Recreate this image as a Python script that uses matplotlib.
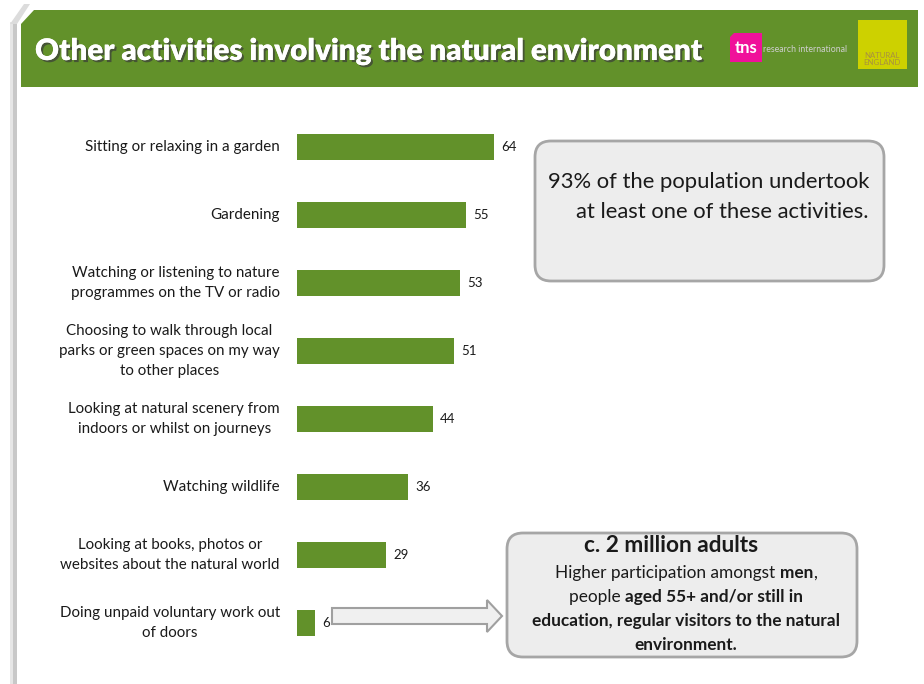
import matplotlib
matplotlib.use("Agg")
import matplotlib.pyplot as plt
from matplotlib.patches import Rectangle, FancyBboxPatch, Polygon
import matplotlib.patheffects as pe

# ---- data -------------------------------------------------------------
activities = [
    "Sitting or relaxing in a garden",
    "Gardening",
    "Watching or listening to nature\nprogrammes on the TV or radio",
    "Choosing to walk through local\nparks or green spaces on my way\nto other places",
    "Looking at natural scenery from\nindoors or whilst on journeys",
    "Watching wildlife",
    "Looking at books, photos or\nwebsites about the natural world",
    "Doing unpaid voluntary work out\nof doors",
]
participation = [64, 55, 53, 51, 44, 36, 29, 6]

title = "Other activities involving the natural environment"
summary_text = "93% of the population undertook\nat least one of these activities."
callout_title = "c. 2 million adults"
callout_lines = [
    [("Higher participation amongst ", False), ("men", True), (",", False)],
    [("people ", False), ("aged 55+ and/or still in", True)],
    [("education, regular visitors to the natural", True)],
    [("environment.", True)],
]

GREEN = "#62912a"
BODY_FONT = ["Lato", "DejaVu Sans"]

W, H = 924, 684
fig = plt.figure(figsize=(W / 100, H / 100), dpi=100)
fig.patch.set_facecolor("white")

# full-figure layer in pixel units for the slide decorations
deco = fig.add_axes([0, 0, 1, 1])
deco.set_xlim(0, W)
deco.set_ylim(H, 0)
deco.axis("off")

# slide frame shadow on the left
deco.add_patch(Rectangle((10, 22), 3, H, facecolor="#e6e6e6", edgecolor="none"))
deco.add_patch(Rectangle((13, 22), 4, H, facecolor="#c8c8c8", edgecolor="none"))
deco.add_patch(Polygon([(10, 24), (24, 4), (30, 4), (17, 24)],
                       closed=True, facecolor="#dcdcdc", edgecolor="none"))

# header band with clipped top-left corner
deco.add_patch(Polygon([(21, 24), (34, 10), (918, 10), (918, 87), (21, 87)],
                       closed=True, facecolor=GREEN, edgecolor="none"))
deco.text(35, 51, title, color="white", fontsize=21.3, fontweight="heavy",
          family=BODY_FONT, va="center", ha="left",
          path_effects=[pe.withSimplePatchShadow(offset=(1.5, -1.5),
                                                 shadow_rgbFace="#3a3a3a",
                                                 alpha=0.7),
                        pe.Normal()])

# logos
deco.add_patch(Polygon([(734, 33), (762, 33), (762, 62), (730, 62), (730, 37)],
                       closed=True, facecolor="#f0119a", edgecolor="none"))
deco.text(746, 48, "tns", color="white", fontsize=12, fontweight="bold",
          family=BODY_FONT, ha="center", va="center")
deco.text(763, 50, "research international", color="#cfcfcf", fontsize=6.3,
          family=BODY_FONT, ha="left", va="center")
deco.add_patch(Rectangle((858, 20), 49, 49, facecolor="#cdd100", edgecolor="none"))
deco.text(882, 59, "NATURAL\nENGLAND", color="#a89040", fontsize=5.6,
          family=BODY_FONT, ha="center", va="center", linespacing=1.0)

# ---- bar chart --------------------------------------------------------
ax_left, ax_width = 297, 308        # 0..100 spans 308 px
ax_top, ax_bottom = 113, 657
ax = fig.add_axes([ax_left / W, (H - ax_bottom) / H,
                   ax_width / W, (ax_bottom - ax_top) / H])
ax.set_xlim(0, 100)
ax.set_ylim(len(activities) - 0.5, -0.5)
ax.axis("off")
ypos = list(range(len(activities)))
ax.barh(ypos, participation, height=0.38, color=GREEN, edgecolor="none")
for y, v, lab in zip(ypos, participation, activities):
    ax.annotate(str(v), (v, y), xytext=(7, 0), textcoords="offset pixels",
                va="center", ha="left", fontsize=9.5, family=BODY_FONT,
                color="#1a1a1a")
    ax.annotate(lab, (0, y), xytext=(-17, 0), textcoords="offset pixels",
                va="center", ha="right", multialignment="center",
                fontsize=10.9, family=BODY_FONT, color="#1a1a1a",
                linespacing=1.52)

# ---- summary box ------------------------------------------------------
deco.add_patch(FancyBboxPatch((535, 141), 349, 140,
                              boxstyle="round,pad=0,rounding_size=16",
                              facecolor="#ededed", edgecolor="#a6a6a6",
                              linewidth=2))
deco.text(869, 197, summary_text, ha="right", va="center",
          multialignment="right", fontsize=15.8, family=BODY_FONT,
          color="#1a1a1a", linespacing=1.62)

# ---- callout arrow ----------------------------------------------------
deco.add_patch(Polygon([(332, 608), (487, 608), (487, 600), (502, 616),
                        (487, 632), (487, 624), (332, 624)],
                       closed=True, facecolor="#f0f0f0", edgecolor="#a0a0a0",
                       linewidth=1.5))

# ---- callout box ------------------------------------------------------
deco.add_patch(FancyBboxPatch((507, 533), 350, 124,
                              boxstyle="round,pad=0,rounding_size=16",
                              facecolor="#ededed", edgecolor="#a6a6a6",
                              linewidth=2))
deco.text(671, 545, callout_title, ha="center", va="center", fontsize=16.3,
          fontweight="bold", family=BODY_FONT, color="#1a1a1a")

renderer = fig.canvas.get_renderer()


def rich_line(xc, y, pieces, size):
    """Draw a line mixing regular and bold runs, centred on xc."""
    texts = []
    widths = []
    for s, bold in pieces:
        t = deco.text(0, y, s, fontsize=size, family=BODY_FONT,
                      fontweight="bold" if bold else "normal",
                      ha="left", va="center", color="#1a1a1a")
        bb = t.get_window_extent(renderer=renderer)
        texts.append(t)
        widths.append(bb.width)
    x = xc - sum(widths) / 2
    for t, w in zip(texts, widths):
        t.set_x(x)
        x += w


for i, pieces in enumerate(callout_lines):
    rich_line(686, 573 + 24 * i, pieces, 12.4)

fig.savefig("out.png", dpi=100)
